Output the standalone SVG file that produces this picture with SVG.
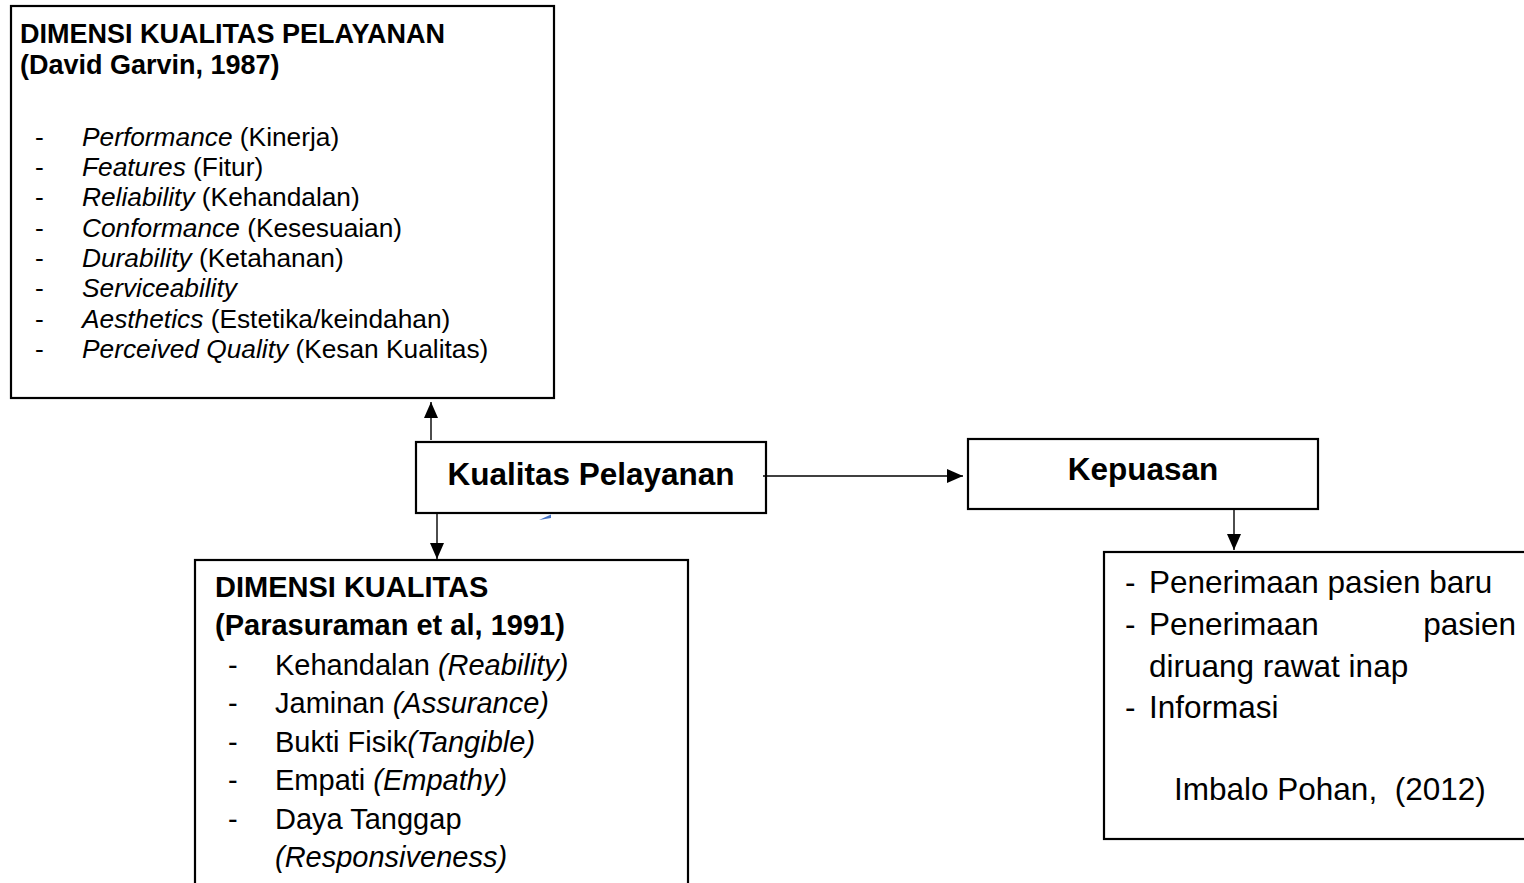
<svg xmlns="http://www.w3.org/2000/svg" width="1524" height="883" viewBox="0 0 1524 883">
<defs>
<style>
.box{fill:#fff;stroke:#000;stroke-width:2.2}
.t{font-family:"Liberation Sans",Arial,sans-serif;fill:#000}
.b{font-weight:bold}
.i{font-style:italic}
.s0{font-size:27px}
.s1{font-size:26.3px}
.s2{font-size:31.5px}
.s3{font-size:29px}
.conn{stroke:#000;stroke-width:1.4;fill:none}
</style>
<marker id="ah2" viewBox="0 0 16 14" refX="16" refY="7" markerWidth="16" markerHeight="14" markerUnits="userSpaceOnUse" orient="auto">
<path d="M0,0 L16,7 L0,14 Z" fill="#000"/>
</marker>
</defs>
<rect width="1524" height="883" fill="#fff"/>

<g id="garvin">
<rect class="box" x="11" y="6" width="543" height="392"/>
<text class="t b s0" x="20" y="43">DIMENSI KUALITAS PELAYANAN</text>
<text class="t b s0" x="20" y="74">(David Garvin, 1987)</text>
<g class="t s1">
<text x="35" y="146">-</text><text x="82" y="146"><tspan class="i">Performance</tspan> (Kinerja)</text>
<text x="35" y="176">-</text><text x="82" y="176"><tspan class="i">Features</tspan> (Fitur)</text>
<text x="35" y="206">-</text><text x="82" y="206"><tspan class="i">Reliability</tspan> (Kehandalan)</text>
<text x="35" y="237">-</text><text x="82" y="237"><tspan class="i">Conformance</tspan> (Kesesuaian)</text>
<text x="35" y="267">-</text><text x="82" y="267"><tspan class="i">Durability</tspan> (Ketahanan)</text>
<text x="35" y="297">-</text><text x="82" y="297"><tspan class="i">Serviceability</tspan></text>
<text x="35" y="328">-</text><text x="82" y="328"><tspan class="i">Aesthetics</tspan> (Estetika/keindahan)</text>
<text x="35" y="358">-</text><text x="82" y="358"><tspan class="i">Perceived Quality</tspan> (Kesan Kualitas)</text>
</g>
</g>

<g id="kualitas">
<rect class="box" x="416" y="442" width="350" height="71"/>
<text class="t b s2" x="591" y="485" text-anchor="middle">Kualitas Pelayanan</text>
</g>

<g id="kepuasan">
<rect class="box" x="968" y="439" width="350" height="70"/>
<text class="t b s2" x="1143" y="480" text-anchor="middle">Kepuasan</text>
</g>

<g id="parasuraman">
<rect class="box" x="195" y="560" width="493" height="340"/>
<text class="t b s3" x="215" y="597">DIMENSI KUALITAS</text>
<text class="t b s3" x="215" y="635">(Parasuraman et al, 1991)</text>
<g class="t s3">
<text x="228" y="675">-</text><text x="275" y="675">Kehandalan <tspan class="i">(Reability)</tspan></text>
<text x="228" y="713">-</text><text x="275" y="713">Jaminan <tspan class="i">(Assurance)</tspan></text>
<text x="228" y="752">-</text><text x="275" y="752">Bukti Fisik<tspan class="i">(Tangible)</tspan></text>
<text x="228" y="790">-</text><text x="275" y="790">Empati <tspan class="i">(Empathy)</tspan></text>
<text x="228" y="829">-</text><text x="275" y="829">Daya Tanggap</text>
<text x="275" y="867" class="i">(Responsiveness)</text>
</g>
</g>

<g id="pohan">
<rect class="box" x="1104" y="552" width="440" height="287"/>
<g class="t s2">
<text x="1125" y="593">-</text><text x="1149" y="593">Penerimaan pasien baru</text>
<text x="1125" y="635">-</text><text x="1149" y="635">Penerimaan</text><text x="1516" y="635" text-anchor="end">pasien</text>
<text x="1149" y="677">diruang rawat inap</text>
<text x="1125" y="718">-</text><text x="1149" y="718">Informasi</text>
<text x="1174" y="800">Imbalo Pohan,&#160; (2012)</text>
</g>
</g>

<g id="connectors">
<line class="conn" x1="431" y1="440" x2="431" y2="402" marker-end="url(#ah2)"/>
<line class="conn" x1="437" y1="514" x2="437" y2="559" marker-end="url(#ah2)"/>
<line class="conn" x1="763" y1="476" x2="963" y2="476" marker-end="url(#ah2)"/>
<line class="conn" x1="1234" y1="510" x2="1234" y2="550" marker-end="url(#ah2)"/>
<polygon points="539,520 551,514.5 551,518" fill="#4472C4"/>
</g>
</svg>
